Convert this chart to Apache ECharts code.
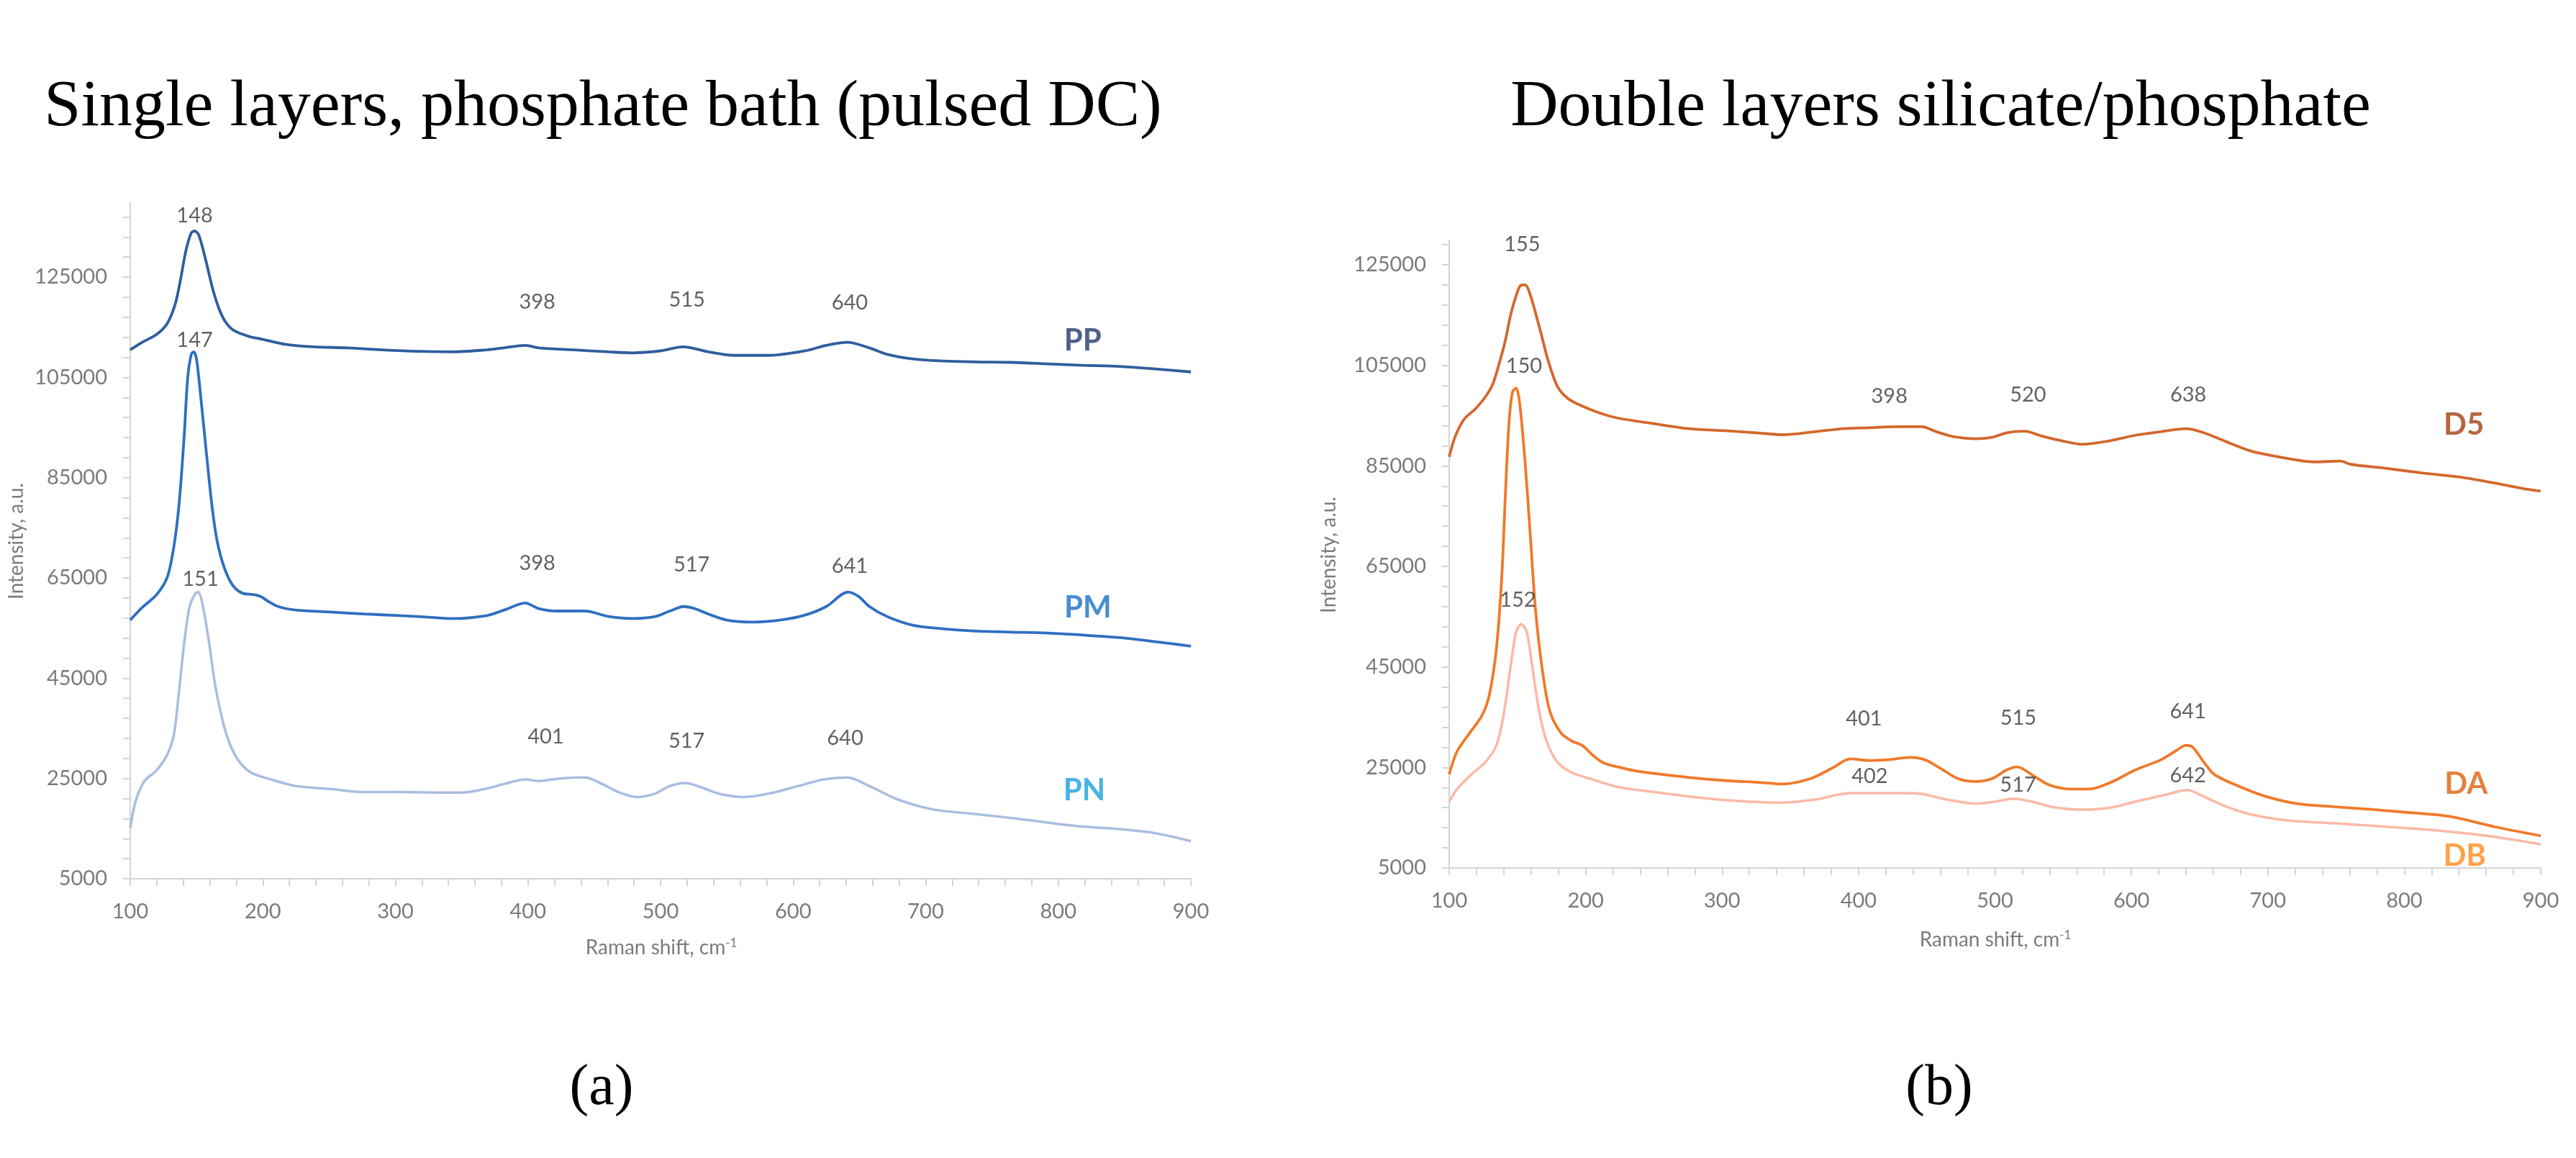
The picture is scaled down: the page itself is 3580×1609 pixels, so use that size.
<!DOCTYPE html>
<html>
<head>
<meta charset="utf-8">
<script src="https://cdn.jsdelivr.net/npm/echarts@6/dist/echarts.min.js"></script>
<style>
html,body{margin:0;padding:0;background:#fff;}
#chart{width:3580px;height:1609px;}
</style>
</head>
<body>
<div id="chart"></div>
<script>
// ---------- data (x = Raman shift, cm-1; y = intensity, a.u.) ----------
const PP = [[100,110500],[109,112000],[120,113600],[128,115800],[134,119700],[138,124600],[142,130300],[146,133800],[148.6,134200],[151.7,133400],[156.4,129000],[163,121900],[169.6,117100],[177.4,114500],[190.6,113100],[198.4,112700],[216.8,111600],[237.8,111100],[264,110900],[290,110500],[316.6,110200],[342.8,110100],[369,110500],[382,110900],[398,111400],[408,110900],[435,110500],[461,110100],[479,109900],[500,110300],[517,111100],[536,110100],[555,109400],[582,109400],[609,110300],[625,111400],[641,112000],[657.5,110900],[671,109600],[690,108700],[711,108300],[738,108100],[765,108000],[792,107700],[819,107400],[846,107200],[873,106700],[900,106100]];
const PM = [[100,56600],[109,59100],[120,61700],[128,65200],[133,71400],[137,80200],[140.7,93400],[143.3,104800],[146,109600],[147.8,110100],[150,108700],[153.8,99500],[157.8,89000],[161.7,79300],[165.6,72300],[171,67000],[177.4,63500],[185.3,61900],[193.2,61700],[198.4,61300],[203.7,60400],[211.6,59300],[224.7,58600],[251,58200],[277,57800],[303.4,57500],[329.7,57100],[342.8,56900],[369,57500],[382,58600],[398,60000],[408,58900],[422,58400],[443,58400],[461,57300],[479,56900],[496,57300],[507,58400],[517.5,59300],[525.5,58900],[536,57800],[550,56600],[569,56200],[590,56600],[609,57600],[625,59300],[641.4,62200],[649.5,61300],[657.5,59300],[671,57300],[690,55600],[711,54900],[738,54400],[765,54200],[792,54000],[819,53600],[846,53100],[873,52300],[900,51400]];
const PN = [[100,15100],[104,20400],[110.5,24400],[119.7,26600],[127.6,29600],[132.8,33600],[136.8,42400],[140.7,52000],[144.6,59100],[148.6,61700],[151.2,62200],[154.3,60000],[159,52900],[164.3,43300],[170.9,35300],[177.4,30500],[185.3,27400],[193.2,25900],[206.3,24800],[224.7,23500],[251,22900],[277,22300],[303,22300],[330,22200],[351,22200],[369,23000],[382,23900],[398,24800],[408,24500],[424,25000],[443,25200],[456,23900],[469,22200],[482,21300],[496,22000],[507,23500],[519,24100],[531,23200],[545,21900],[563,21300],[582,22000],[604,23500],[623,24800],[641,25200],[657.5,23500],[679,20800],[706,18800],[738,17900],[765,17100],[792,16200],[819,15400],[846,14900],[873,14100],[900,12500]];

const D5 = [[100,86800],[104.5,90900],[111,94300],[119,96300],[126.7,98800],[132,101300],[137.2,105900],[141.2,110000],[145,115000],[149,118800],[152.4,120900],[155.6,121000],[158.2,120000],[162,116700],[167.4,111300],[172.6,105900],[179.2,100900],[187,98400],[197.5,96900],[210.6,95500],[223.7,94500],[250,93400],[276,92400],[302,92000],[328.6,91500],[344.3,91200],[368,91800],[388.8,92400],[407,92600],[428,92800],[446.5,92800],[457,91800],[470,90800],[486,90400],[498,90700],[508.6,91600],[521.7,91900],[534.7,90900],[550.5,89900],[563.6,89300],[582,89900],[603,91100],[621.4,91800],[640,92400],[653,91600],[668.7,89900],[687,88000],[708,86800],[734,85800],[753,85950],[761,85300],[787,84500],[813,83600],[840,82800],[866,81600],[887,80500],[900,80000]];
const DA = [[100,23600],[105.8,28200],[116.2,32300],[124,35300],[129.4,39400],[134.6,48600],[138.5,62700],[141.2,79300],[143.8,93400],[146.4,99700],[149,100500],[151.6,97600],[155.6,85900],[159.5,71000],[163.4,56000],[168.7,43600],[173.9,36100],[181.8,31900],[189.6,30300],[197.5,29400],[205.4,27400],[213.2,25900],[223.7,25100],[236.8,24300],[250,23800],[276,23000],[302,22400],[328.6,22000],[344.3,21700],[365,22800],[381,24900],[394,26700],[407,26400],[420,26500],[438.6,27000],[449,26500],[459.6,24900],[472.7,22800],[485.8,22200],[498,22800],[508.6,24500],[516.4,25100],[526.8,23600],[540,21500],[555.7,20700],[569,20700],[584.6,22000],[603,24500],[621.4,26500],[632,28200],[640,29400],[645,29000],[653,26100],[660.8,23600],[676.6,21500],[697.6,19300],[721.3,17800],[747.6,17200],[774,16700],[800,16100],[826,15500],[840,14900],[866,13200],[900,11400]];
const DB = [[100,18200],[105.8,20700],[116.2,23600],[126.7,26100],[134.6,29400],[139.8,35300],[145.1,45200],[149,51900],[152.9,53500],[156.9,51900],[160.8,45200],[166,36100],[171.3,30300],[179.2,26100],[189.6,24000],[202.7,22800],[223.7,21100],[250,20100],[276,19200],[302,18500],[341.7,18000],[368,18600],[394,19900],[407,19900],[433,19900],[446.5,19700],[465,18600],[485.8,17800],[498,18100],[513.7,18800],[526.8,18200],[542.6,17100],[563.6,16600],[584.6,17000],[603,18200],[624,19500],[641,20500],[650,19600],[666,17600],[687,15700],[713,14500],[747.6,13900],[787,13200],[826,12400],[866,11200],[900,9700]];

// peak annotations [x, y, text]
const peaksA = [[148.6,137300,'148'],[148.6,112400,'147'],[152.9,64700,'151'],[407,120100,'398'],[519.9,120400,'515'],[642.7,119900,'640'],[407,67900,'398'],[523.4,67700,'517'],[642.7,67400,'641'],[413.4,33300,'401'],[519.6,32400,'517'],[639.2,33100,'640']];
const peaksB = [[153.5,129000,'155'],[154.8,104800,'150'],[150.3,58300,'152'],[422.6,98800,'398'],[524.2,99200,'520'],[641.7,99200,'638'],[404,34700,'401'],[517.1,34800,'515'],[641.4,36100,'641'],[408.2,23200,'402'],[516.9,21500,'517'],[641.4,23450,'642']];
// series name tags [x, y, text]
const tagsA = [[818.5,112300,'PP'],[822.3,59000,'PM'],[819.6,22570,'PN']];
const tagsB = [[843.7,93200,'D5'],[845.3,21750,'DA'],[844.2,7300,'DB']];

// axis ticks / labels
const xTicks = [100,120,140,160,180,200,220,240,260,280,300,320,340,360,380,400,420,440,460,480,500,520,540,560,580,600,620,640,660,680,700,720,740,760,780,800,820,840,860,880,900];
const xLabels = [100,200,300,400,500,600,700,800,900];
const yLabels = [5000,25000,45000,65000,85000,105000,125000];
const yTicksA = [5000,9000,13000,17000,21000,25000,29000,33000,37000,41000,45000,49000,53000,57000,61000,65000,69000,73000,77000,81000,85000,89000,93000,97000,101000,105000,109000,113000,117000,121000,125000,129000,133000,137000];
const yTicksB = [5000,9000,13000,17000,21000,25000,29000,33000,37000,41000,45000,49000,53000,57000,61000,65000,69000,73000,77000,81000,85000,89000,93000,97000,101000,105000,109000,113000,117000,121000,125000,129000];

const titleA = 'Single layers, phosphate bath (pulsed DC)';
const titleB = 'Double layers silicate/phosphate';

// ---------- styling ----------
const SANS = 'Lato, "Open Sans", "Liberation Sans", sans-serif';
const SERIF = '"Liberation Serif", "DejaVu Serif", serif';
const axisGray = '#d4d4d4';
const labelGray = '#7b7b7b';

function xAxisCfg(gi){
  return {
    type:'value', gridIndex:gi, min:100, max:900, interval:100,
    axisLine:{show:true, onZero:false, lineStyle:{color:axisGray, width:2}},
    axisTick:{show:true, customValues:xTicks, length:10, inside:false, lineStyle:{color:axisGray, width:2}},
    axisLabel:{customValues:xLabels, margin:31, fontSize:29, color:labelGray, fontFamily:SANS, formatter:v=>String(v)},
    splitLine:{show:false}
  };
}
function yAxisCfg(gi, max, ticks){
  return {
    type:'value', gridIndex:gi, min:5000, max:max, interval:20000,
    axisLine:{show:true, onZero:false, lineStyle:{color:axisGray, width:2}},
    axisTick:{show:true, customValues:ticks, length:10, inside:false, lineStyle:{color:axisGray, width:2}},
    axisLabel:{customValues:yLabels, margin:32, fontSize:29, color:labelGray, fontFamily:SANS, formatter:v=>String(v)},
    splitLine:{show:false}
  };
}
function lineSeries(data, gi, color, w){
  return {type:'line', xAxisIndex:gi, yAxisIndex:gi, data:data, showSymbol:false, smooth:0.3,
    lineStyle:{color:color, width:w}, itemStyle:{color:color}, silent:true, z:3};
}
function textSeries(data, gi, style){
  return {type:'scatter', xAxisIndex:gi, yAxisIndex:gi, data:data, symbolSize:1, silent:true, z:5,
    itemStyle:{color:'rgba(0,0,0,0)'},
    label:Object.assign({show:true, position:'inside', formatter:p=>p.value[2], fontFamily:SANS}, style)};
}
function tagSeries(data, gi, colors){
  return {type:'scatter', xAxisIndex:gi, yAxisIndex:gi, symbolSize:1, silent:true, z:5,
    itemStyle:{color:'rgba(0,0,0,0)'},
    data:data.map((d,i)=>({value:d, label:{color:colors[i]}})),
    label:{show:true, position:'inside', formatter:p=>p.value[2], fontFamily:SANS, fontWeight:'bold', fontSize:42}};
}

const chart = echarts.init(document.getElementById('chart'), null, {renderer:'canvas'});
chart.setOption({
  animation:false,
  backgroundColor:'#ffffff',
  grid:[
    {left:181, top:282, width:1474, height:939, containLabel:false},
    {left:2014, top:334.5, width:1517, height:871.5, containLabel:false}
  ],
  xAxis:[xAxisCfg(0), xAxisCfg(1)],
  yAxis:[yAxisCfg(0, 139800, yTicksA), yAxisCfg(1, 129800, yTicksB)],
  series:[
    lineSeries(PN, 0, '#a9bde2', 3.5),
    lineSeries(PM, 0, '#2f6fc0', 3.8),
    lineSeries(PP, 0, '#2e5e9e', 3.8),
    lineSeries(DB, 1, '#fbb9a6', 3.5),
    lineSeries(DA, 1, '#f07a2a', 3.8),
    lineSeries(D5, 1, '#d3682c', 3.8),
    textSeries(peaksA, 0, {fontSize:29, color:'#3a3a3a'}),
    textSeries(peaksB, 1, {fontSize:29, color:'#3a3a3a'}),
    tagSeries(tagsA, 0, ['#1f3b68','#1a70c4','#16a0de']),
    tagSeries(tagsB, 1, ['#a33f0c','#dd610c','#ff8a1c'])
  ],
  graphic:[
    {type:'text', x:838, y:150, style:{text:titleA, font:'92px '+SERIF, fill:'#000', textAlign:'center', textVerticalAlign:'middle'}},
    {type:'text', x:2697, y:150, style:{text:titleB, font:'92px '+SERIF, fill:'#000', textAlign:'center', textVerticalAlign:'middle'}},
    {type:'text', x:836, y:1513, style:{text:'(a)', font:'80px '+SERIF, fill:'#000', textAlign:'center', textVerticalAlign:'middle'}},
    {type:'text', x:2695, y:1513, style:{text:'(b)', font:'80px '+SERIF, fill:'#000', textAlign:'center', textVerticalAlign:'middle'}},
    {type:'text', x:23, y:752, rotation:Math.PI/2, style:{text:'Intensity, a.u.', font:'28px '+SANS, fill:labelGray, textAlign:'center', textVerticalAlign:'middle'}},
    {type:'text', x:1847, y:771, rotation:Math.PI/2, style:{text:'Intensity, a.u.', font:'28px '+SANS, fill:labelGray, textAlign:'center', textVerticalAlign:'middle'}},
    {type:'text', x:919, y:1317, style:{text:'Raman shift, cm{s|-1}', fill:labelGray, font:'28px '+SANS, textAlign:'center', textVerticalAlign:'middle', rich:{s:{fontSize:17, fontFamily:SANS, verticalAlign:'top', padding:[0,0,12,0]}}}},
    {type:'text', x:2773, y:1306, style:{text:'Raman shift, cm{s|-1}', fill:labelGray, font:'28px '+SANS, textAlign:'center', textVerticalAlign:'middle', rich:{s:{fontSize:17, fontFamily:SANS, verticalAlign:'top', padding:[0,0,12,0]}}}}
  ]
});
</script>
</body>
</html>
